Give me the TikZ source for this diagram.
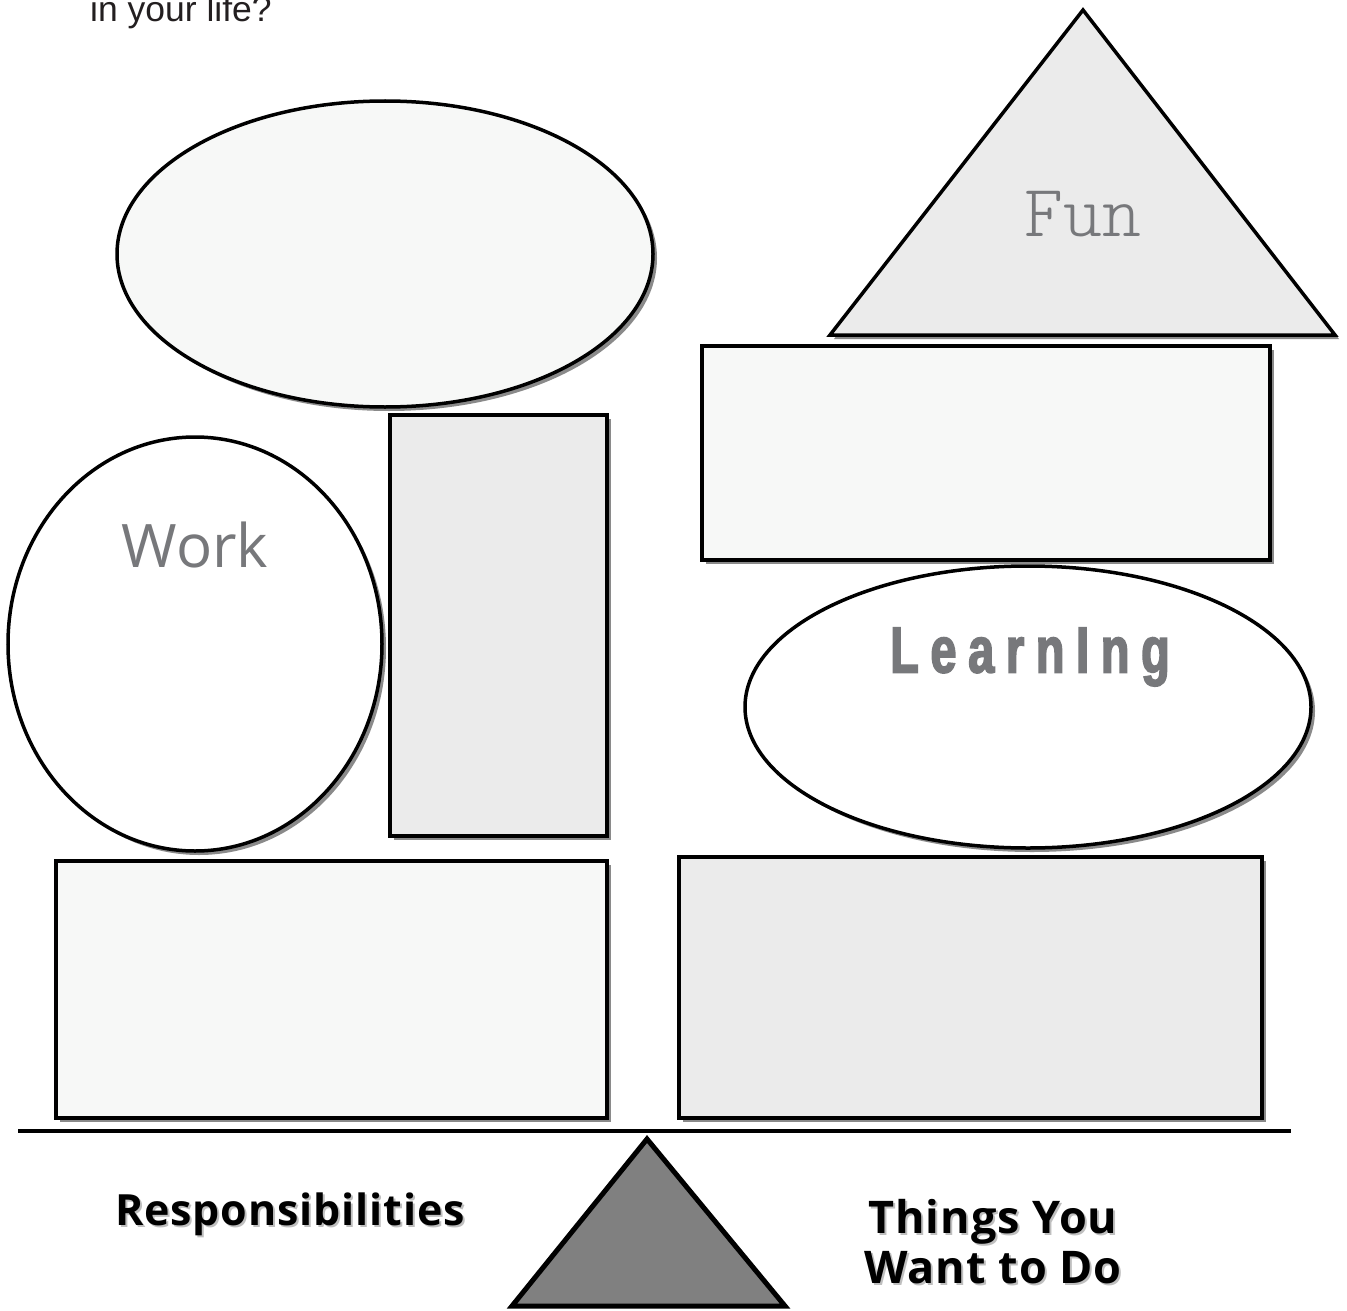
\documentclass[tikz,border=0pt]{standalone}
\usepackage{fontspec}
\setmainfont{Liberation Sans}
\newfontfamily\workfont{Open Sans}
\newfontfamily\funfont{Latin Modern Mono Light}
\newfontfamily\learnfont[FakeStretch=0.72,LetterSpace=18,FakeBold=2.5]{Liberation Sans Bold}
\newfontfamily\labfont[LetterSpace=2]{Open Sans Bold}
\definecolor{paleA}{HTML}{F7F8F7}
\definecolor{paleB}{HTML}{EBEBEB}
\definecolor{shadowgray}{HTML}{8A8A8A}
\definecolor{textgray}{HTML}{77787B}
\definecolor{fulcrum}{HTML}{808080}
\definecolor{topink}{HTML}{231F20}
\begin{document}
\begin{tikzpicture}[x=1pt,y=-1pt,
  outline/.style={draw=black,line width=3.5pt,line join=miter},
  shad/.style={fill=shadowgray,draw=none},
  graylabel/.style={text=textgray,inner sep=0pt},
  blacklabel/.style={text=black,inner sep=0pt,font=\labfont\fontsize{45}{50}\selectfont,align=center}]
\useasboundingbox (0,0) rectangle (1347,1311);

% top ellipse
\fill[shad] (389,258) ellipse [x radius=268,y radius=153];
\draw[outline,fill=paleA] (385,254) ellipse [x radius=268,y radius=153];

% Fun triangle
\fill[shad] (1087,14) -- (1339,339) -- (834,339) -- cycle;
\draw[outline,fill=paleB] (1083,10) -- (1335,335) -- (830,335) -- cycle;
\node[graylabel,font=\funfont\fontsize{74}{78}\selectfont] (fun) at (1083,214) {Fun};

% top right rectangle
\fill[shad] (706,350) rectangle (1274,564);
\draw[outline,fill=paleA] (702,346) rectangle (1270,560);

% Work ellipse
\fill[shad] (199,648) ellipse [x radius=187,y radius=207];
\draw[outline,fill=white] (195,644) ellipse [x radius=187,y radius=207];
\node[graylabel,font=\workfont\fontsize{60}{66}\selectfont] (work) at (195,545) {Work};

% tall rectangle
\fill[shad] (394,419) rectangle (611,840);
\draw[outline,fill=paleB] (390,415) rectangle (607,836);

% Learning ellipse
\fill[shad] (1032,711) ellipse [x radius=283,y radius=141];
\draw[outline,fill=white] (1028,707) ellipse [x radius=283,y radius=141];
\node[graylabel,font=\learnfont\fontsize{65}{70}\selectfont] (learn) at (1030,657) {LearnIng};

% bottom rectangles
\fill[shad] (60,865) rectangle (611,1122);
\draw[outline,fill=paleA] (56,861) rectangle (607,1118);
\fill[shad] (683,861) rectangle (1266,1122);
\draw[outline,fill=paleB] (679,857) rectangle (1262,1118);

% beam and fulcrum
\coordinate (beamL) at (18,1131);
\coordinate (beamR) at (1291,1131);
\draw[line width=4pt] (beamL) -- (beamR);
\draw[line width=5pt,fill=fulcrum,line join=miter] (647,1139) -- (785,1306) -- (512,1306) -- cycle;

% labels
\node[blacklabel,text=black!25,font=\labfont\fontsize{43}{50}\selectfont] at (292,1216) {Responsibilities};
\node[blacklabel,font=\labfont\fontsize{43}{50}\selectfont] (resp) at (290,1214) {Responsibilities};
\node[blacklabel,text=black!25] at (995,1244) {Things You\\Want to Do};
\node[blacklabel] (things) at (993,1242) {Things You\\Want to Do};

% top text
\node[anchor=base west,inner sep=0pt,text=topink,font=\fontsize{35.5}{40}\selectfont] (top) at (90,22) {in your life?};
\end{tikzpicture}
\end{document}
